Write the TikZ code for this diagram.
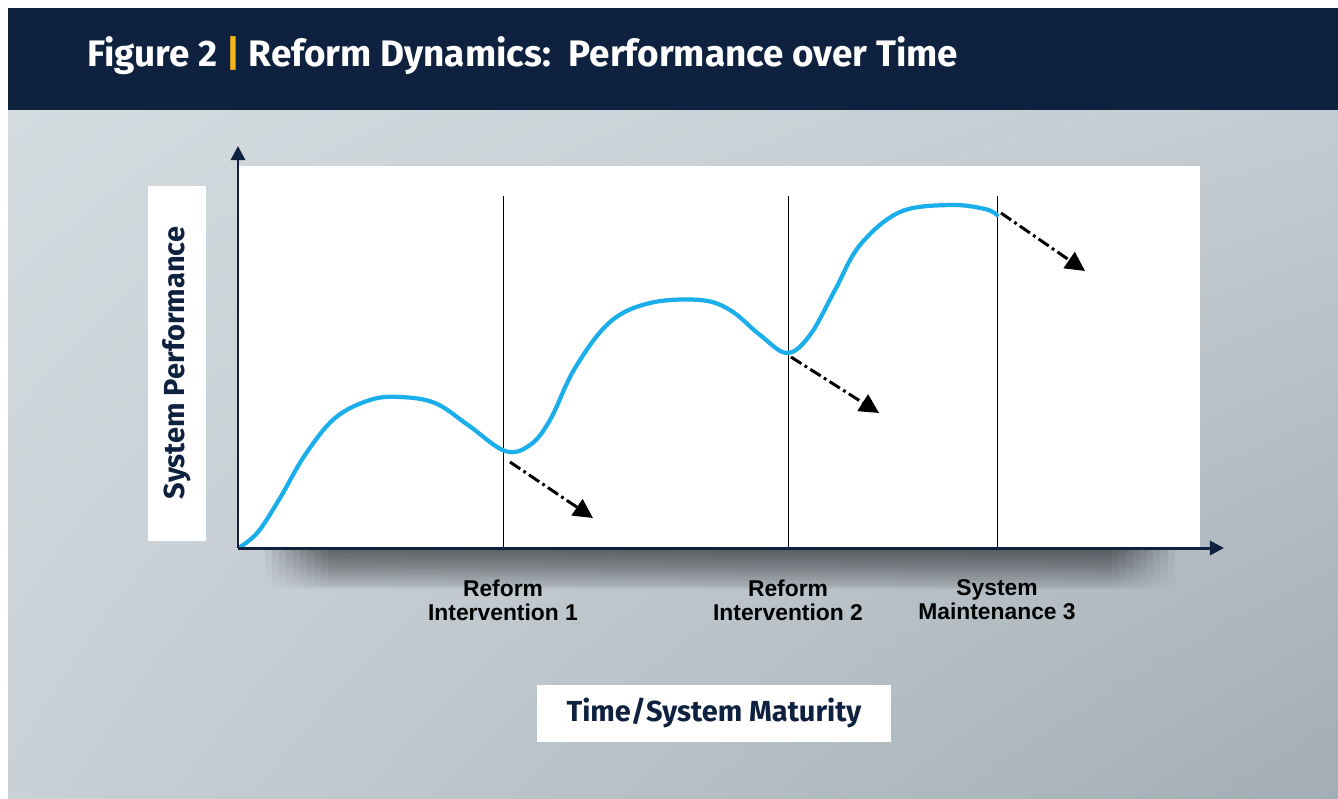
\documentclass[tikz,border=0pt]{standalone}
\usepackage{fontspec}
\setmainfont{Fira Sans}
\newfontfamily\labelfont{Liberation Sans}
\usetikzlibrary{arrows.meta,fadings,shadings}
\definecolor{navy}{HTML}{0E2240}
\definecolor{curveblue}{HTML}{1AAEEB}
\definecolor{goldbar}{HTML}{F5B51B}
\definecolor{bgtl}{HTML}{D4DBDF}
\definecolor{bgtr}{HTML}{C4CCD1}
\definecolor{bgbl}{HTML}{C9D1D6}
\definecolor{bgbr}{HTML}{A2ADB5}
\tikzset{
  axis/.style={navy, line width=1.7pt, -{Triangle[length=8pt,width=8pt]}},
  marker/.style={black, line width=0.5pt},
  decline/.style={black, line width=1.7pt, dash pattern=on 7pt off 2.2pt on 1.6pt off 2.2pt,
    -{Triangle[length=11pt,width=11pt]}},
  whitebox/.style={fill=white, draw=none},
  ticklabel/.style={font=\labelfont\bfseries\fontsize{13}{13.5}\selectfont, align=center, text=black},
  axislabel/.style={font=\bfseries\fontsize{16.5}{18}\selectfont, text=navy}
}
\begin{document}
\begin{tikzpicture}[x=0.02cm, y=-0.02cm]
    \useasboundingbox (0,0) rectangle (1338,798);
    \fill [white] (0,0) rectangle (1338,798);
    \shade [upper left=bgtl, upper right=bgtr, lower left=bgbl, lower right=bgbr] (8,110) rectangle (1338,798);
    \fill [navy] (8,8) rectangle (1338,110);
    \node [anchor=base west, text=white, font=\fontsize{21}{24}\selectfont\bfseries, inner sep=0pt] (title) at (87,66)
      {Figure 2 {\color{goldbar}|} Reform Dynamics:\ \ Performance over Time};
    % plot area
    \foreach \i in {0,...,9}
      \fill [black, opacity=0.065, path fading=south] (265+\i*7,549) rectangle (1175-\i*7,590);
    \fill [whitebox] (238,166) rectangle (1200,548);
    \fill [whitebox] (148,186) rectangle (206,541);
    \node [axislabel, rotate=90] (ylab) at (177,363) {System Performance};
    \node [whitebox, minimum width=354*0.02cm, minimum height=57*0.02cm, axislabel] (xlab) at (714,713) {Time/System Maturity};
    \coordinate (origin) at (238,548);
    \coordinate (ytip) at (238,146);
    \coordinate (xtip) at (1224,548);
    % interventions
    \coordinate (r1top) at (503,196);
    \coordinate (r1bot) at (503,548);
    \coordinate (r2top) at (788,196);
    \coordinate (r2bot) at (788,548);
    \coordinate (s3top) at (997,196);
    \coordinate (s3bot) at (997,548);
    \draw [marker] (r1top) -- (r1bot);
    \draw [marker] (r2top) -- (r2bot);
    \draw [marker] (s3top) -- (s3bot);
    \node [ticklabel] (r1lab) at (503,600) {Reform\\Intervention 1};
    \node [ticklabel] (r2lab) at (788,600) {Reform\\Intervention 2};
    \node [ticklabel] (s3lab) at (997,600) {System\\Maintenance 3};
    % performance curve
    \draw [curveblue, line width=2.4pt, line cap=round] plot [smooth, tension=0.6] coordinates {
      (240,547) (258,532) (280,498) (305,455) (335,418) (370,400) (400,397) (435,403) (468,425) (505,451)
      (530,445) (550,420) (575,368) (610,322) (650,303) (700,300) (730,310) (760,335) (787,353)
      (810,335) (835,290) (860,245) (900,212) (950,205) (985,209) (997,215)};
    \coordinate (d1) at (510,462);
    \coordinate (e1) at (593,518);
    \coordinate (d2) at (791,357);
    \coordinate (e2) at (879,413);
    \coordinate (d3) at (1001,213);
    \coordinate (e3) at (1085,271);
    \draw [decline] (d1) -- (e1);
    \draw [decline] (d2) -- (e2);
    \draw [decline] (d3) -- (e3);
    % axes
    \draw [axis] (origin) -- (ytip);
    \draw [axis] (origin) -- (xtip);
\end{tikzpicture}
\end{document}
